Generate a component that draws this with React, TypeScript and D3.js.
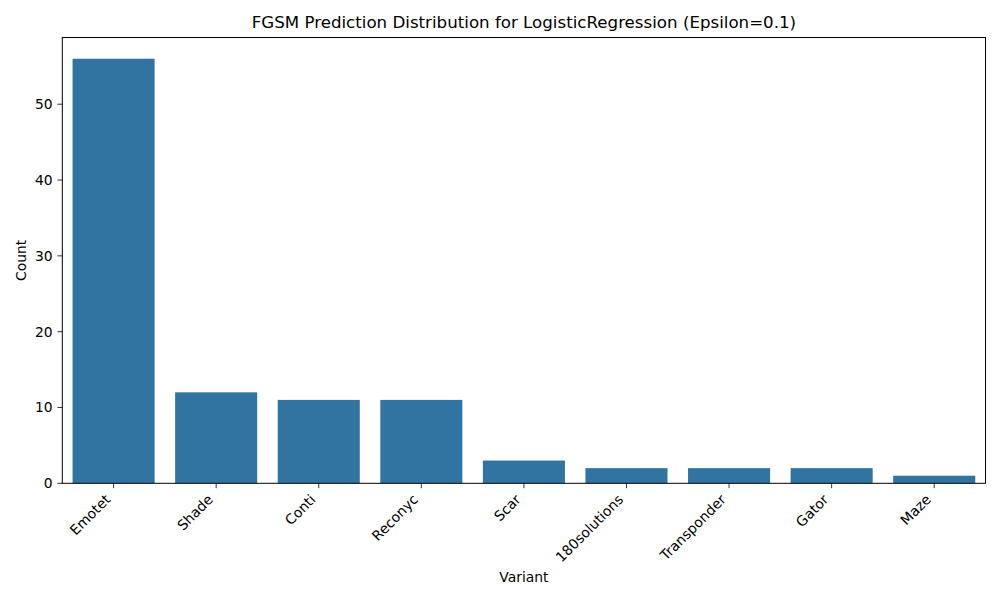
import React from "react";
import * as d3 from "d3";

const categories = ["Emotet", "Shade", "Conti", "Reconyc", "Scar", "180solutions", "Transponder", "Gator", "Maze"];
const counts = [56, 12, 11, 11, 3, 2, 2, 2, 1];
const yTicks = [0, 10, 20, 30, 40, 50];

const W = 1000, H = 600;
const L = 62.3, R = 985.5, T = 37.5, B = 483.3;
const FONT = "DejaVu Sans, sans-serif";
const FS = 13.89;

export default function App() {
  const x = d3.scaleBand<string>().domain(categories).range([L, R]).paddingInner(0.2).paddingOuter(0.1);
  const y = d3.scaleLinear().domain([0, 56 * 1.05]).range([B, T]);
  const bw = x.bandwidth();
  return (
    <svg width={W} height={H} style={{ position: "absolute", left: 0, top: 0, background: "#fff" }} fontFamily={FONT}>
      {categories.map((c, i) => (
        <rect key={c} x={x(c)} y={y(counts[i])} width={bw} height={B - y(counts[i])} fill="#3274a1" />
      ))}
      <rect x={L} y={T} width={R - L} height={B - T} fill="none" stroke="#000" strokeWidth={1} />
      {yTicks.map((t) => (
        <g key={t}>
          <line x1={L - 4.86} x2={L} y1={y(t)} y2={y(t)} stroke="#000" strokeWidth={0.8} />
          <text x={L - 9.7} y={y(t)} dy="0.36em" fontSize={FS} textAnchor="end" fill="#000">{t}</text>
        </g>
      ))}
      {categories.map((c) => {
        const cx = x(c)! + bw / 2;
        return (
          <g key={c}>
            <line x1={cx} x2={cx} y1={B} y2={B + 4.86} stroke="#000" strokeWidth={0.8} />
            <text transform={`translate(${cx - 2.3},${B + 17.1}) rotate(-45)`} fontSize={FS} textAnchor="end" fill="#000">{c}</text>
          </g>
        );
      })}
      <text x={(L + R) / 2} y={28} fontSize={16.67} textAnchor="middle" fill="#000">FGSM Prediction Distribution for LogisticRegression (Epsilon=0.1)</text>
      <text x={(L + R) / 2} y={582} fontSize={FS} textAnchor="middle" fill="#000">Variant</text>
      <text transform={`translate(26,${(T + B) / 2}) rotate(-90)`} fontSize={FS} textAnchor="middle" fill="#000">Count</text>
    </svg>
  );
}
